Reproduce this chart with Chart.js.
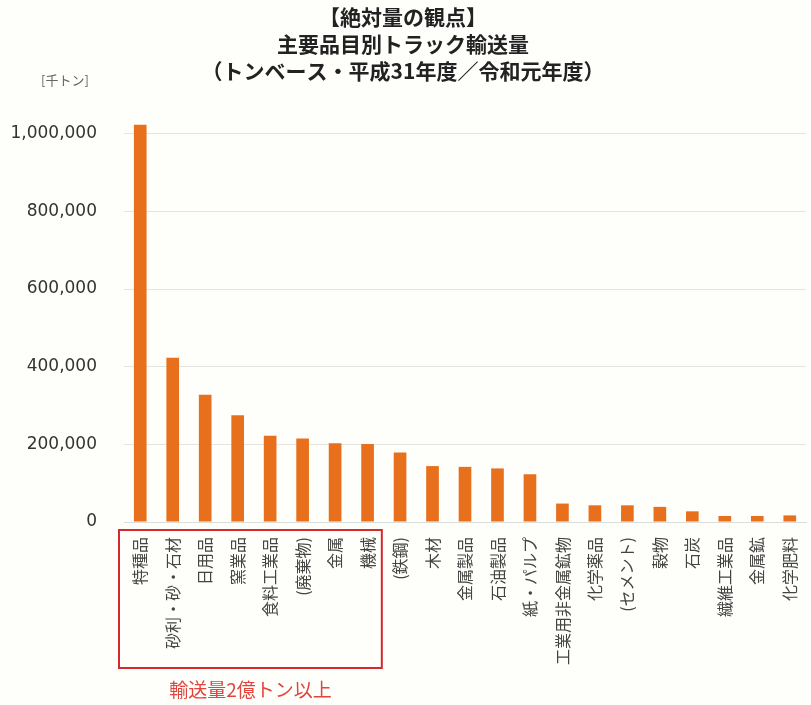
<!DOCTYPE html>
<html lang="ja">
<head>
<meta charset="utf-8">
<title>主要品目別トラック輸送量</title>
<script src="https://cdn.jsdelivr.net/npm/chart.js@4.4.1/dist/chart.umd.min.js"></script>
<style>
  html, body { margin: 0; padding: 0; background: #fefefb; }
  #wrap { position: relative; width: 811px; height: 705px; }
</style>
</head>
<body>
<div id="wrap"><canvas id="truckChart" width="811" height="705"></canvas></div>
<script>
// 品目（平成31年度／令和元年度）
const categories = [
  '特種品', '砂利・砂・石材', '日用品', '窯業品', '食料工業品', '(廃棄物)', '金属', '機械',
  '(鉄鋼)', '木材', '金属製品', '石油製品', '紙・パルプ', '工業用非金属鉱物', '化学薬品',
  '(セメント)', '穀物', '石炭', '繊維工業品', '金属鉱', '化学肥料'
];

// 輸送量 [千トン]
const tonnage = [
  1023000, 423000, 328000, 275000, 222000, 215000, 203000, 201000,
  179000, 144000, 142000, 138000, 123000, 47500, 43000,
  43000, 39000, 27500, 15500, 15500, 17000
];

const yTicks = [0, 200000, 400000, 600000, 800000, 1000000];
const titleLines = ['【絶対量の観点】', '主要品目別トラック輸送量', '（トンベース・平成31年度／令和元年度）'];
const unitLabel = '[千トン]';
const highlightCount = 8;   // 先頭8品目
const highlightText = '輸送量2億トン以上';

const ORANGE = '#e8701d';
const JP_FONT = "'Noto Sans CJK JP', 'Noto Sans', sans-serif";

// 背景・単位・赤枠
const extras = {
  id: 'extras',
  beforeDraw(chart) {
    const { ctx, width, height } = chart;
    ctx.save();
    ctx.fillStyle = '#fefefb';
    ctx.fillRect(0, 0, width, height);
    ctx.restore();
  },
  afterDraw(chart) {
    const { ctx, chartArea } = chart;
    const x = chart.scales.x;
    const step = x.getPixelForValue(1) - x.getPixelForValue(0);

    ctx.save();
    ctx.fillStyle = '#666';
    ctx.font = '13px ' + JP_FONT;
    ctx.textAlign = 'center';
    ctx.textBaseline = 'middle';
    ctx.fillText(unitLabel, chartArea.left - 59, chartArea.top - 15);

    const left = x.getPixelForValue(0) - step / 2 - 5;
    const right = x.getPixelForValue(highlightCount - 1) + step / 2 - 2;
    const top = chartArea.bottom + 8;
    const bottom = chartArea.bottom + 146;
    ctx.strokeStyle = '#d42a2f';
    ctx.lineWidth = 2;
    ctx.strokeRect(left, top, right - left, bottom - top);

    ctx.fillStyle = '#e2453c';
    ctx.font = '19px ' + JP_FONT;
    ctx.fillText(highlightText, (left + right) / 2, bottom + 22);
    ctx.restore();
  }
};

new Chart(document.getElementById('truckChart'), {
  type: 'bar',
  data: {
    labels: categories,
    datasets: [{
      data: tonnage,
      backgroundColor: ORANGE,
      borderWidth: 0,
      categoryPercentage: 1,
      barPercentage: 0.39
    }]
  },
  options: {
    responsive: false,
    animation: false,
    layout: { padding: { left: 0, right: 5, top: 0, bottom: 0 } },
    plugins: {
      legend: { display: false },
      tooltip: { enabled: false },
      title: {
        display: true,
        text: titleLines,
        color: '#222',
        font: { family: JP_FONT, size: 21, weight: 'bold', lineHeight: 1.3 },
        padding: { top: 3, bottom: 10 }
      }
    },
    scales: {
      x: {
        grid: { display: false, drawTicks: false },
        border: { display: true, color: '#dcdcd8', width: 1 },
        afterFit(scale) {
          scale.height = 183;
          scale.paddingLeft = 0;
          scale.paddingRight = 0;
        },
        ticks: {
          autoSkip: false,
          minRotation: 90,
          maxRotation: 90,
          padding: 15,
          color: '#444',
          font: { family: JP_FONT, size: 16 }
        }
      },
      y: {
        min: 0,
        max: 1100000,
        afterBuildTicks(scale) {
          scale.ticks = yTicks.map(v => ({ value: v }));
        },
        afterFit(scale) { scale.width = 124; },
        border: { display: false },
        grid: { color: '#e4e4e0', drawTicks: false },
        ticks: {
          padding: 27,
          color: '#333',
          font: { family: "'DejaVu Sans', Verdana, sans-serif", size: 17 },
          callback: v => Number(v).toLocaleString('en-US')
        }
      }
    }
  },
  plugins: [extras]
});
</script>
</body>
</html>
